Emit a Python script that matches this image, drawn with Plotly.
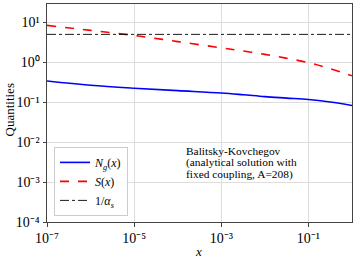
import plotly.graph_objects as go

# data
x_vals = [1e-7, 1e-6, 1e-5, 1e-4, 1e-3, 10**-2.5, 1e-2, 10**-1.5, 1e-1, 10**-0.5, 1.0]
ng_vals = [0.341, 0.266, 0.224, 0.195, 0.170, 0.154, 0.138, 0.127, 0.117, 0.101, 0.083]
s_vals = [8.4, 6.3, 4.7, 3.3, 2.3, 1.92, 1.58, 1.26, 0.98, 0.69, 0.46]
alpha_x = [1e-7, 1.0]
alpha_inv = [5.0, 5.0]

x_tickvals = [1e-7, 1e-5, 1e-3, 1e-1]
x_ticktext = ["10⁻⁷", "10⁻⁵", "10⁻³", "10⁻¹"]
y_tickvals = [1e-4, 1e-3, 1e-2, 1e-1, 1e0, 1e1]
y_ticktext = ["10⁻⁴", "10⁻³", "10⁻²", "10⁻¹", "10⁰", "10¹"]
note_lines = ["Balitsky-Kovchegov", "(analytical solution with", "fixed coupling, A=208)"]

FONT = "Liberation Serif"
PLOT_L, PLOT_R, PLOT_T, PLOT_B = 47, 352, 4, 222


def py2paper(py):
    return (PLOT_B - py) / (PLOT_B - PLOT_T)


def px2paper(px):
    return (px - PLOT_L) / (PLOT_R - PLOT_L)


fig = go.Figure()
fig.add_trace(go.Scatter(x=x_vals, y=ng_vals, mode="lines", line_shape="spline",
                         line=dict(color="#0000ff", width=1.6),
                         name="<i>N</i><sub><i>g</i></sub>(<i>x</i>)"))
fig.add_trace(go.Scatter(x=x_vals, y=s_vals, mode="lines", line_shape="spline",
                         line=dict(color="#ff0000", width=1.6, dash="dash"),
                         name="<i>S</i>(<i>x</i>)"))
fig.add_trace(go.Scatter(x=alpha_x, y=alpha_inv, mode="lines",
                         line=dict(color="black", width=0.9, dash="dashdot"),
                         name="1/<i>α</i><sub><i>s</i></sub>"))

axis_common = dict(showline=True, linecolor="#444", linewidth=1, mirror=True,
                   showgrid=True, gridcolor="#dddddd", gridwidth=1,
                   ticks="outside", ticklen=3.5, tickcolor="#444", zeroline=False,
                   tickfont=dict(family=FONT, size=14, color="black"))

annotations = []
for i, line in enumerate(note_lines):
    annotations.append(dict(text=line, xref="paper", yref="paper",
                            x=px2paper(184), y=py2paper(151 + 11.7 * i),
                            xanchor="left", yanchor="middle", align="left",
                            showarrow=False, font=dict(family=FONT, size=11.4)))
annotations.append(dict(text="Quantities", xref="paper", yref="paper",
                        x=px2paper(8.5), y=py2paper(110), textangle=-90,
                        xanchor="center", yanchor="middle", showarrow=False,
                        font=dict(family=FONT, size=13)))
annotations.append(dict(text="<i>x</i>", xref="paper", yref="paper",
                        x=px2paper(198), y=py2paper(251),
                        xanchor="center", yanchor="middle", showarrow=False,
                        font=dict(family=FONT, size=13)))

fig.update_layout(
    width=357, height=261,
    margin=dict(l=PLOT_L, r=357 - PLOT_R, t=PLOT_T, b=261 - PLOT_B),
    paper_bgcolor="white", plot_bgcolor="white",
    font=dict(family=FONT, size=12, color="black"),
    xaxis=dict(type="log", range=[-7, 0], tickmode="array",
               tickvals=x_tickvals, ticktext=x_ticktext, **axis_common),
    yaxis=dict(type="log", range=[-4, 1.46], tickmode="array",
               tickvals=y_tickvals, ticktext=y_ticktext, **axis_common),
    legend=dict(x=0.023, y=0.028, xanchor="left", yanchor="bottom",
                bgcolor="rgba(255,255,255,0.9)", bordercolor="#cccccc", borderwidth=1,
                font=dict(family=FONT, size=12), tracegroupgap=0, itemwidth=30),
    showlegend=True,
    annotations=annotations,
)

fig.write_html("out.html", config={"displayModeBar": False},
               post_script="document.body.style.margin='0';document.body.style.padding='0';")
